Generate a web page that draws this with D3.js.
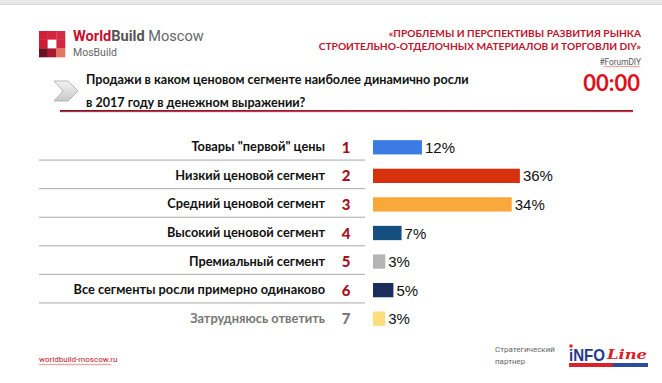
<!DOCTYPE html>
<html><head><meta charset="utf-8">
<script src="https://cdn.jsdelivr.net/npm/d3@7"></script>
<style>html,body{margin:0;padding:0;background:#fff;}svg{display:block;}</style>
</head><body>
<svg id="chart" width="662" height="383"></svg>
<script>
const categories = [
  'Товары "первой" цены',
  'Низкий ценовой сегмент',
  'Средний ценовой сегмент',
  'Высокий ценовой сегмент',
  'Премиальный сегмент',
  'Все сегменты росли примерно одинаково',
  'Затрудняюсь ответить'
];
const values = [12, 36, 34, 7, 3, 5, 3];
const numbers = ['1','2','3','4','5','6','7'];
const barColors = ['#3c7ae4','#d6300f','#f8a93a','#154f80','#b4b4b4','#1b2d5b','#fbdd7c'];
const titleLines = ['Продажи в каком ценовом сегменте наиболее динамично росли','в 2017 году в денежном выражении?'];
const headerLines = ['«ПРОБЛЕМЫ И ПЕРСПЕКТИВЫ РАЗВИТИЯ РЫНКА','СТРОИТЕЛЬНО-ОТДЕЛОЧНЫХ МАТЕРИАЛОВ И ТОРГОВЛИ DIY»'];

const svg = d3.select('#chart');
const defs = svg.append('defs');

// top band
svg.append('rect').attr('x',0).attr('y',0).attr('width',662).attr('height',4).attr('fill','#e8e8e8');
svg.append('line').attr('x1',0).attr('x2',662).attr('y1',4.5).attr('y2',4.5).attr('stroke','#d8d8d8').attr('stroke-width',1);

// logo squares
const logoCols = [['#cf1f3a','#d4233d','#d52b44'],['#cc1c36','#ffffff','#d22740'],['#6e1020','#a8182e','#e37363']];
const cell = 8.7;
logoCols.forEach((row,r)=>row.forEach((c,k)=>{
  svg.append('rect').attr('x',39+k*cell).attr('y',31+r*cell).attr('width',cell+0.2).attr('height',cell+0.2).attr('fill',c);
}));
const wb = svg.append('text').attr('x',73).attr('y',41).attr('font-family','Roboto, Arial, sans-serif').attr('font-size',14.6);
wb.append('tspan').attr('fill','#c8102e').attr('font-weight','bold').text('World');
wb.append('tspan').attr('fill','#555').attr('font-weight','bold').text('Build');
wb.append('tspan').attr('fill','#666').text(' Moscow');
svg.append('text').attr('x',73).attr('y',56).attr('font-family','Roboto, Arial, sans-serif').attr('font-size',10.5).attr('fill','#666').text('MosBuild');

// header right
headerLines.forEach((t,i)=>{
  svg.append('text').attr('x',641).attr('y',37+i*13.3).attr('text-anchor','end')
    .attr('font-family','Lato, "Open Sans", sans-serif').attr('font-weight','bold').attr('font-size',10.2)
    .attr('fill','#c0152f').text(t);
});
svg.append('text').attr('x',641).attr('y',64.5).attr('text-anchor','end')
  .attr('font-family','Roboto, Arial, sans-serif').attr('font-size',8.3).attr('fill','#555').text('#ForumDIY');
function wavy(x1,x2,y){
  let p = `M${x1},${y}`;
  for(let x=x1;x<x2;x+=2){ p += ` Q${x+0.5},${y+ ((x-x1)/2%2? 1.2:-1.2)} ${x+1},${y} T${x+2},${y}`; }
  return p;
}
svg.append('path').attr('d',wavy(604,640,66.5)).attr('fill','none').attr('stroke','#e04040').attr('stroke-width',0.6);
svg.append('text').attr('x',640).attr('y',90.5).attr('text-anchor','end')
  .attr('font-family','Lato, "Open Sans", sans-serif').attr('font-weight','bold').attr('font-size',22)
  .attr('fill','#e0101e').text('00:00');

// chevron
const chevGrad = defs.append('linearGradient').attr('id','chev').attr('x1',0).attr('y1',0).attr('x2',0).attr('y2',1);
chevGrad.append('stop').attr('offset','0%').attr('stop-color','#f2f2f2');
chevGrad.append('stop').attr('offset','100%').attr('stop-color','#c9c9c9');
svg.append('path').attr('d','M54,81 L68,81 L78,91 L68,101 L54,101 L63,91 Z')
  .attr('fill','url(#chev)').attr('stroke','#a8a8a8').attr('stroke-width',0.8);

// title
titleLines.forEach((t,i)=>{
  svg.append('text').attr('x',86).attr('y',84+i*22.5)
    .attr('font-family','Lato, "Open Sans", sans-serif').attr('font-weight','bold').attr('font-size',12.6)
    .attr('fill','#111').text(t);
});
const ulGrad = defs.append('linearGradient').attr('id','ul').attr('x1',0).attr('y1',0).attr('x2',1).attr('y2',0);
ulGrad.append('stop').attr('offset','0%').attr('stop-color','#8c1022');
ulGrad.append('stop').attr('offset','50%').attr('stop-color','#b01430');
ulGrad.append('stop').attr('offset','100%').attr('stop-color','#a01228');
svg.append('rect').attr('x',60).attr('y',111.5).attr('width',573).attr('height',1.2).attr('fill','#ddd');
svg.append('rect').attr('x',60).attr('y',110).attr('width',573).attr('height',1.8).attr('fill','url(#ul)');

// scales
const x = d3.scaleLinear().domain([0,100]).range([373, 373+408]);
const y = d3.scaleBand().domain(categories).range([133,333]).paddingInner(0.5).paddingOuter(0.25);
const color = d3.scaleOrdinal().domain(categories).range(barColors);
const mid = c => y(c) + y.bandwidth()/2;

// separators
categories.slice(0,-1).forEach((c,i)=>{
  const yy = (mid(c) + mid(categories[i+1]))/2 - 1.5;
  svg.append('line').attr('x1',39).attr('x2',365).attr('y1',yy).attr('y2',yy).attr('stroke','#a9a9a9').attr('stroke-width',1);
});

// labels
svg.selectAll('.lab').data(categories).enter().append('text')
  .attr('x',325).attr('y',d=>mid(d)+4)
  .attr('text-anchor','end').attr('font-family','Lato, "Open Sans", sans-serif').attr('font-weight','bold').attr('font-size',12.8)
  .attr('fill',(d,i)=> i===6 ? '#777' : '#111').text(d=>d);

// numbers
svg.selectAll('.num').data(categories).enter().append('text')
  .attr('x',346).attr('y',d=>mid(d)+5.5)
  .attr('text-anchor','middle').attr('font-family','Lato, "Open Sans", sans-serif').attr('font-weight','900').attr('font-size',15)
  .attr('fill',(d,i)=> i===6 ? '#7a7a7a' : '#a3121c').text((d,i)=>numbers[i]);

// bars
svg.selectAll('.bar').data(categories).enter().append('rect')
  .attr('x',x(0)).attr('y',d=>y(d)).attr('height',y.bandwidth())
  .attr('width',(d,i)=>x(values[i])-x(0)).attr('fill',d=>color(d));

// value labels
svg.selectAll('.val').data(categories).enter().append('text')
  .attr('x',(d,i)=>x(values[i])+3).attr('y',d=>mid(d)+5.5)
  .attr('font-family','"Liberation Sans", Arial, sans-serif').attr('font-size',15).attr('fill','#111')
  .text((d,i)=>values[i]+'%');

// footer
svg.append('text').attr('x',39).attr('y',362).attr('font-family','Roboto, Arial, sans-serif').attr('font-size',8).attr('fill','#c0152f').text('worldbuild-moscow.ru');
svg.append('path').attr('d',wavy(39,111,364.5)).attr('fill','none').attr('stroke','#e04040').attr('stroke-width',0.6);
['Стратегический','партнер'].forEach((t,i)=>{
  svg.append('text').attr('x',495).attr('y',352+i*11.5).attr('font-family','Roboto, Arial, sans-serif').attr('font-size',8).attr('fill','#666').text(t);
});
// INFOLine logo
svg.append('text').attr('x',569).attr('y',361).attr('font-family','"Liberation Sans Narrow", "Liberation Sans", Arial, sans-serif').attr('font-weight','bold').attr('font-size',17)
  .attr('textLength',36).attr('lengthAdjust','spacingAndGlyphs').attr('fill','#243a8c').text('iNFO');
svg.append('text').attr('x',607).attr('y',359).attr('font-family','"DejaVu Serif", serif').attr('font-style','italic').attr('font-weight','bold').attr('font-size',13)
  .attr('textLength',40).attr('lengthAdjust','spacingAndGlyphs').attr('fill','#d8232a').text('Line');
svg.append('rect').attr('x',569).attr('y',363).attr('width',44).attr('height',4).attr('fill','#d8232a');
svg.append('rect').attr('x',613).attr('y',363).attr('width',35).attr('height',4).attr('fill','#2c4aa0');
svg.append('rect').attr('x',569.5).attr('y',344.5).attr('width',3).attr('height',3).attr('fill','#d8232a');
</script>
</body></html>
